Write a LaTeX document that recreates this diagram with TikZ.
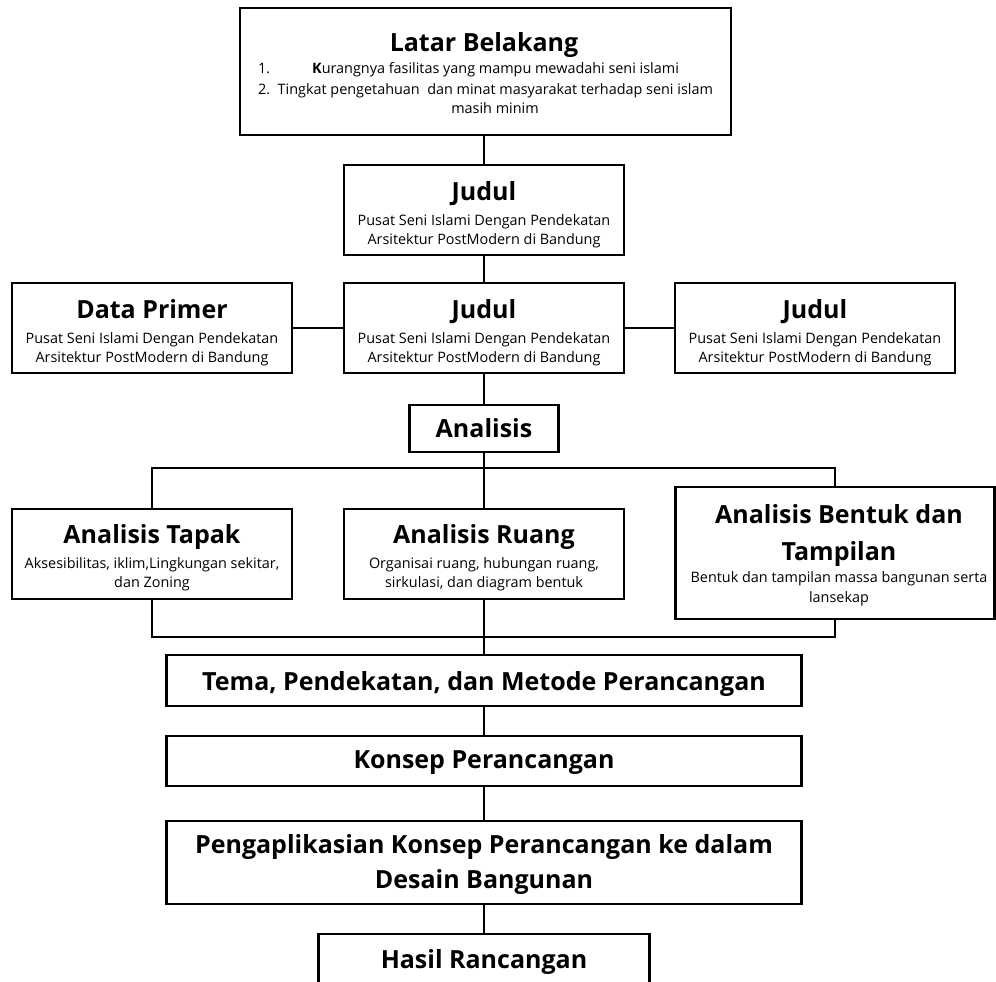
\documentclass[tikz,border=0pt]{standalone}
\usepackage{fontspec}
\setmainfont{Open Sans}
\begin{document}
\begin{tikzpicture}[x=1pt,y=-1pt,
  box/.style={draw, line width=2.8pt, inner sep=0pt},
  conn/.style={line width=2.6pt},
  txt/.style={inner sep=0pt, anchor=base},
  tit/.style={txt, font=\fontsize{25}{30}\selectfont\bfseries},
  sub/.style={txt, font=\fontsize{14.4}{17}\selectfont}]
\clip (0,0) rectangle (996,982);
\fill[white] (0,0) rectangle (996,982);
% boxes
\node[box, minimum width=491pt, minimum height=127pt] (lb) at (485.5,71.5) {};
\node[box, minimum width=280pt, minimum height=90pt] (j1) at (484,210) {};
\node[box, minimum width=280pt, minimum height=90pt] (dp) at (152,328) {};
\node[box, minimum width=280pt, minimum height=90pt] (j2) at (484,328) {};
\node[box, minimum width=280pt, minimum height=90pt] (j3) at (815,328) {};
\node[box, minimum width=149pt, minimum height=47pt] (an) at (484,428.5) {};
\node[box, minimum width=280pt, minimum height=90pt] (at) at (152,554) {};
\node[box, minimum width=280pt, minimum height=90pt] (ar) at (484,554) {};
\node[box, minimum width=319pt, minimum height=132pt] (ab) at (835,553) {};
\node[box, minimum width=635pt, minimum height=51pt] (tm) at (484,680.5) {};
\node[box, minimum width=635pt, minimum height=50pt] (kp) at (484,761) {};
\node[box, minimum width=635pt, minimum height=83pt] (pk) at (484,862.5) {};
\node[box, minimum width=331pt, minimum height=66pt] (hr) at (484,967) {};
% texts
\node[tit] (lbt) at (484,52) {Latar Belakang};
\node[sub, anchor=base west] (lbn1) at (258,74) {1.};
\node[sub, anchor=base west] (lbl1) at (312,74) {\textbf{K}urangnya fasilitas yang mampu mewadahi seni islami};
\node[sub, anchor=base west] (lbl2) at (258,94) {2.\ \ Tingkat pengetahuan\ \ dan minat masyarakat terhadap seni islam};
\node[sub] (lbl3) at (495,113) {masih minim};

\node[tit] (j1t) at (484,200) {Judul};
\node[sub] (j1a) at (484,225) {Pusat Seni Islami Dengan Pendekatan};
\node[sub] (j1b) at (484,244) {Arsitektur PostModern di Bandung};

\node[tit] (dpt) at (152,318) {Data Primer};
\node[sub] (dpa) at (152,343) {Pusat Seni Islami Dengan Pendekatan};
\node[sub] (dpb) at (152,362) {Arsitektur PostModern di Bandung};

\node[tit] (j2t) at (484,318) {Judul};
\node[sub] (j2a) at (484,343) {Pusat Seni Islami Dengan Pendekatan};
\node[sub] (j2b) at (484,362) {Arsitektur PostModern di Bandung};

\node[tit] (j3t) at (815,318) {Judul};
\node[sub] (j3a) at (815,343) {Pusat Seni Islami Dengan Pendekatan};
\node[sub] (j3b) at (815,362) {Arsitektur PostModern di Bandung};

\node[tit] (ant) at (484,437) {Analisis};

\node[tit] (att) at (152,543) {Analisis Tapak};
\node[sub] (ata) at (152,568) {Aksesibilitas, iklim,Lingkungan sekitar,};
\node[sub] (atb) at (152,587) {dan Zoning};

\node[tit] (art) at (484,543) {Analisis Ruang};
\node[sub] (ara) at (484,568) {Organisai ruang, hubungan ruang,};
\node[sub] (arb) at (484,587) {sirkulasi, dan diagram bentuk};

\node[tit] (abt1) at (839,523) {Analisis Bentuk dan};
\node[tit] (abt2) at (839,560) {Tampilan};
\node[sub] (aba) at (839,582) {Bentuk dan tampilan massa bangunan serta};
\node[sub] (abb) at (839,602) {lansekap};

\node[tit] (tmt) at (484,690) {Tema, Pendekatan, dan Metode Perancangan};
\node[tit] (kpt) at (484,768) {Konsep Perancangan};
\node[tit] (pkt1) at (484,853) {Pengaplikasian Konsep Perancangan ke dalam};
\node[tit] (pkt2) at (484,888) {Desain Bangunan};
\node[tit] (hrt) at (484,968) {Hasil Rancangan};

% connectors
\coordinate (bt) at (484,468);
\coordinate (bb) at (484,637);
\draw[conn] (j1.north) -- (j1.north |- lb.south);
\draw[conn] (j1.south) -- (j2.north);
\draw[conn] (dp.east) -- (j2.west);
\draw[conn] (j2.east) -- (j3.west);
\draw[conn] (j2.south) -- (an.north);
\draw[conn] (an.south) -- (ar.north);
\draw[conn] (at.north) -- (at.north |- bt) -- (ab.north |- bt) -- (ab.north);
\draw[conn] (at.south) -- (at.south |- bb) -- (ab.south |- bb) -- (ab.south);
\draw[conn] (ar.south) -- (tm.north);
\draw[conn] (tm.south) -- (kp.north);
\draw[conn] (kp.south) -- (pk.north);
\draw[conn] (pk.south) -- (hr.north);
\end{tikzpicture}
\end{document}
